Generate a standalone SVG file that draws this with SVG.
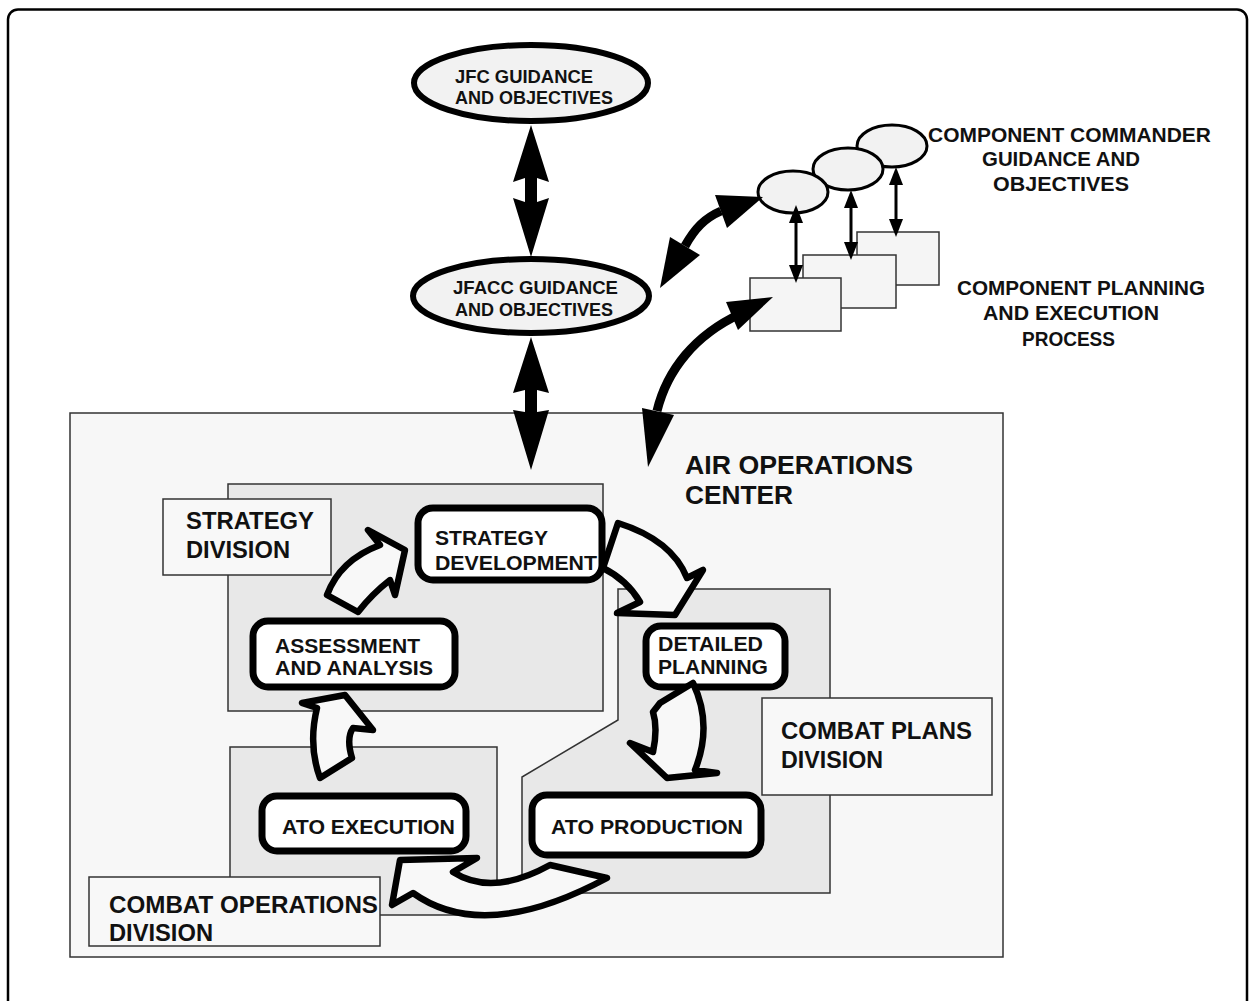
<svg xmlns="http://www.w3.org/2000/svg" width="1250" height="1001" viewBox="0 0 1250 1001">
<style>
text{font-family:"Liberation Sans",Arial,sans-serif;font-weight:bold;fill:#111;}
.box{stroke:#333;stroke-width:1.5;}
.aoc{fill:#f7f7f7;}
.div{fill:#e8e8e8;}
.lbl{fill:#f8f8f8;}
.node{fill:#fff;stroke:#000;stroke-width:7;}
.ell{fill:#f2f2f2;stroke:#000;stroke-width:6;}
.sell{fill:#f2f2f2;stroke:#000;stroke-width:3;}
.crect{fill:#f5f5f5;stroke:#333;stroke-width:1.5;}
.blk{fill:#f8f8f8;stroke:#000;stroke-width:6.5;stroke-linejoin:round;}
.solid{fill:#000;stroke:none;}
.shaft{fill:none;stroke:#000;stroke-width:9;}
.thin{fill:none;stroke:#000;stroke-width:3;}
</style>
<rect x="8" y="9.5" width="1239" height="1010" rx="10" fill="#fff" stroke="#000" stroke-width="2.5"/>

<g id="aoc">
<rect class="box aoc" x="70" y="413" width="933" height="544"/>
<text x="685" y="474" font-size="26" textLength="228" lengthAdjust="spacingAndGlyphs">AIR OPERATIONS</text>
<text x="685" y="504" font-size="26" textLength="108" lengthAdjust="spacingAndGlyphs">CENTER</text>
</g>

<g id="strategy-division">
<rect class="box div" x="228" y="484" width="375" height="227"/>
<rect class="box lbl" x="163" y="499" width="168" height="76"/>
<text x="186" y="529" font-size="24" textLength="128" lengthAdjust="spacingAndGlyphs">STRATEGY</text>
<text x="186" y="558" font-size="24" textLength="104" lengthAdjust="spacingAndGlyphs">DIVISION</text>
</g>

<g id="combat-plans-division">
<polygon class="box div" points="618,589 830,589 830,893 522,893 522,777 618,720"/>
<rect class="box lbl" x="762" y="698" width="230" height="97"/>
<text x="781" y="739" font-size="24" textLength="191" lengthAdjust="spacingAndGlyphs">COMBAT PLANS</text>
<text x="781" y="768" font-size="24" textLength="102" lengthAdjust="spacingAndGlyphs">DIVISION</text>
</g>

<g id="combat-operations-division">
<rect class="box div" x="230" y="747" width="267" height="168"/>
<rect class="box lbl" x="89" y="877" width="291" height="69"/>
<text x="109" y="913" font-size="24" textLength="269" lengthAdjust="spacingAndGlyphs">COMBAT OPERATIONS</text>
<text x="109" y="941" font-size="24" textLength="104" lengthAdjust="spacingAndGlyphs">DIVISION</text>
</g>

<g id="jfc">
<ellipse class="ell" cx="531" cy="83" rx="117" ry="38"/>
<text x="455" y="83" font-size="18" textLength="138" lengthAdjust="spacingAndGlyphs">JFC GUIDANCE</text>
<text x="455" y="104" font-size="18" textLength="158" lengthAdjust="spacingAndGlyphs">AND OBJECTIVES</text>
</g>

<g id="jfacc">
<ellipse class="ell" cx="531" cy="296" rx="118" ry="37"/>
<text x="453" y="294" font-size="18" textLength="165" lengthAdjust="spacingAndGlyphs">JFACC GUIDANCE</text>
<text x="455" y="316" font-size="18" textLength="158" lengthAdjust="spacingAndGlyphs">AND OBJECTIVES</text>
</g>

<g id="component-planning">
<rect class="crect" x="857" y="232" width="82" height="53"/>
<rect class="crect" x="803" y="255" width="93" height="53"/>
<rect class="crect" x="750" y="278" width="91" height="53"/>
<text x="957" y="295" font-size="20" textLength="248" lengthAdjust="spacingAndGlyphs">COMPONENT PLANNING</text>
<text x="983" y="320" font-size="20" textLength="176" lengthAdjust="spacingAndGlyphs">AND EXECUTION</text>
<text x="1022" y="346" font-size="20" textLength="93" lengthAdjust="spacingAndGlyphs">PROCESS</text>
</g>

<g id="component-commander">
<ellipse class="sell" cx="892" cy="146" rx="35" ry="21"/>
<ellipse class="sell" cx="848" cy="169" rx="35" ry="21"/>
<ellipse class="sell" cx="793" cy="192" rx="35" ry="21"/>
<text x="928" y="142" font-size="20" textLength="283" lengthAdjust="spacingAndGlyphs">COMPONENT COMMANDER</text>
<text x="982" y="166" font-size="20" textLength="158" lengthAdjust="spacingAndGlyphs">GUIDANCE AND</text>
<text x="993" y="191" font-size="20" textLength="136" lengthAdjust="spacingAndGlyphs">OBJECTIVES</text>
</g>

<g id="strategy-development">
<rect class="node" x="418" y="508" width="184" height="72" rx="15"/>
<text x="435" y="545" font-size="21" textLength="113" lengthAdjust="spacingAndGlyphs">STRATEGY</text>
<text x="435" y="570" font-size="21" textLength="162" lengthAdjust="spacingAndGlyphs">DEVELOPMENT</text>
</g>

<g id="assessment-analysis">
<rect class="node" x="253" y="621" width="202" height="66" rx="15"/>
<text x="275" y="653" font-size="21" textLength="145" lengthAdjust="spacingAndGlyphs">ASSESSMENT</text>
<text x="275" y="675" font-size="21" textLength="158" lengthAdjust="spacingAndGlyphs">AND ANALYSIS</text>
</g>

<g id="detailed-planning">
<rect class="node" x="646" y="626" width="139" height="61" rx="15"/>
<text x="658" y="651" font-size="21" textLength="105" lengthAdjust="spacingAndGlyphs">DETAILED</text>
<text x="658" y="674" font-size="21" textLength="110" lengthAdjust="spacingAndGlyphs">PLANNING</text>
</g>

<g id="ato-execution">
<rect class="node" x="262" y="796" width="204" height="55" rx="15"/>
<text x="282" y="834" font-size="21" textLength="173" lengthAdjust="spacingAndGlyphs">ATO EXECUTION</text>
</g>

<g id="ato-production">
<rect class="node" x="532" y="795" width="229" height="60" rx="15"/>
<text x="551" y="834" font-size="21" textLength="192" lengthAdjust="spacingAndGlyphs">ATO PRODUCTION</text>
</g>

<g id="connectors">
<path class="blk" d="M327 595 Q340 560 380 545 L368 530 L405 550 L395 595 L390 580 Q372 594 358 612 Z"/>
<path class="blk" d="M618 523 Q672 540 687 578 L703 570 L675 615 L617 613 L640 602 Q627 580 603 568 Z"/>
<path class="blk" d="M660 703 L693 683 Q713 725 695 770 L717 773 L667 778 L630 743 L653 752 Q658 728 653 712 Z"/>
<path class="blk" d="M320 778 L352 758 Q346 738 353 728 L373 730 L345 695 L302 703 L317 708 Q308 745 320 778 Z"/>
<path class="blk" d="M400 860 L477 858 L453 872 Q492 897 550 865 L607 878 Q484 944 413 893 L392 905 Z"/>
<polygon class="solid" points="531,125 549,182 537,178 537,202 549,198 531,257 513,198 525,202 525,178 513,182"/>
<polygon class="solid" points="531,337 549,393 537,390 537,412 549,410 531,470 513,410 525,412 525,390 513,393"/>
<path class="shaft" d="M685 246 C695 228 705 218 721 211"/>
<polygon class="solid" points="763,197 715,195 727,228"/>
<polygon class="solid" points="660,288 670,237 700,255"/>
<path class="shaft" d="M657 411 C667 370 695 335 740 314"/>
<polygon class="solid" points="648,467 642,408 674,415"/>
<polygon class="solid" points="773,297 726,302 738,330"/>
<line class="thin" x1="796" y1="220" x2="796" y2="268"/>
<polygon class="solid" points="796,205 803,223 789,223"/>
<polygon class="solid" points="796,283 803,265 789,265"/>
<line class="thin" x1="851" y1="205" x2="851" y2="245"/>
<polygon class="solid" points="851,190 858,208 844,208"/>
<polygon class="solid" points="851,260 858,242 844,242"/>
<line class="thin" x1="896" y1="182" x2="896" y2="222"/>
<polygon class="solid" points="896,167 903,185 889,185"/>
<polygon class="solid" points="896,237 903,219 889,219"/>
</g>
</svg>
